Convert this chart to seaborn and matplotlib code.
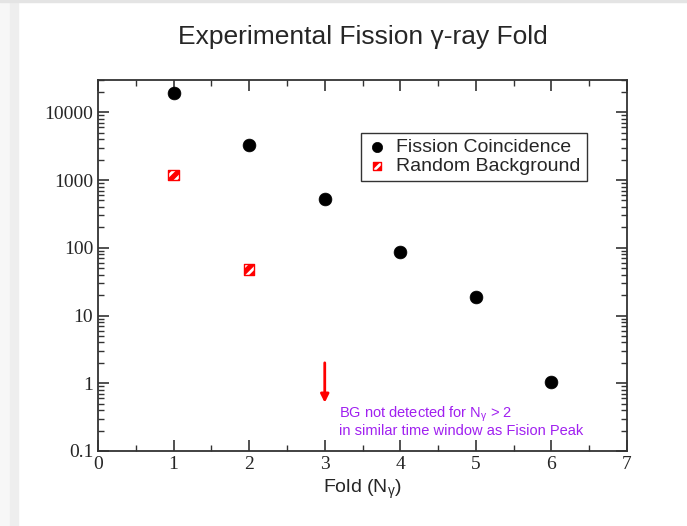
import numpy as np
import pandas as pd
import matplotlib
matplotlib.use("Agg")
import matplotlib.pyplot as plt
import matplotlib.ticker as mticker
from matplotlib.patches import Rectangle
from matplotlib.legend_handler import HandlerTuple
import seaborn as sns

# values
fold = [1, 2, 3, 4, 5, 6]
fission_counts = [19000, 3250, 520, 86, 18.5, 1.03]
bg_fold = [1, 2]
bg_counts = [1180, 48]

sns.set_style("ticks")
plt.rcParams["font.family"] = ["Liberation Sans", "DejaVu Sans"]
plt.rcParams["hatch.color"] = "white"
plt.rcParams["hatch.linewidth"] = 2.0

fis = pd.DataFrame({"fold": fold, "counts": fission_counts})
bg = pd.DataFrame({"fold": bg_fold, "counts": bg_counts})

fig = plt.figure(figsize=(6.87, 5.26), dpi=100)
ax = fig.add_axes([0.1427, 0.1426, 0.77, 0.7054])

# screenshot side strip
fig.patches.append(Rectangle((0, 0), 10 / 687, 1, transform=fig.transFigure,
                             color="#f7f7f7", zorder=-5))
fig.patches.append(Rectangle((10 / 687, 0), 8 / 687, 1, transform=fig.transFigure,
                             color="#eeeeee", zorder=-5))
fig.patches.append(Rectangle((0, 1 - 2 / 526), 1, 2 / 526, transform=fig.transFigure,
                             color="#e4e4e4", zorder=-5))

sns.scatterplot(data=fis, x="fold", y="counts", ax=ax, color="black", marker="o",
                s=85, edgecolor="black", linewidth=0.5, zorder=3, legend=False)
# hatched squares: red fill with white stripes, then a red outline on top
sns.scatterplot(data=bg, x="fold", y="counts", ax=ax, color="red", marker="s",
                s=55, edgecolor="white", linewidth=0, hatch="///", zorder=3, legend=False)
sns.scatterplot(data=bg, x="fold", y="counts", ax=ax, marker="s", s=55,
                facecolor="none", edgecolor="red", linewidth=1.0, zorder=4, legend=False)
c_fis, c_bg, c_bg_edge = ax.collections[0], ax.collections[1], ax.collections[2]
c_bg.set_hatch("///")
c_bg._hatch_color = (1, 1, 1, 1)

ax.set_yscale("log")
ax.set_xlim(0, 7)
ax.set_ylim(0.1, 30000)

ax.xaxis.set_major_locator(mticker.MultipleLocator(1))
ax.xaxis.set_minor_locator(mticker.MultipleLocator(0.5))
ax.yaxis.set_major_locator(mticker.LogLocator(base=10, numticks=10))
ax.yaxis.set_minor_locator(mticker.LogLocator(base=10, subs=np.arange(2, 10), numticks=20))
ax.yaxis.set_minor_formatter(mticker.NullFormatter())
ax.yaxis.set_major_formatter(mticker.FuncFormatter(lambda v, p: f"{v:g}"))

ax.tick_params(which="both", direction="in", top=True, right=True, color="#333333")
ax.tick_params(which="major", length=8, width=1.2)
ax.tick_params(which="minor", length=4, width=1.0)
for lab in ax.get_xticklabels() + ax.get_yticklabels():
    lab.set_family("Liberation Serif")
    lab.set_fontsize(14)
for sp in ax.spines.values():
    sp.set_visible(True)
    sp.set_color("#333333")
    sp.set_linewidth(1.3)

ax.set_xlabel(r"Fold (N$_{\mathregular{γ}}$)", fontsize=14, labelpad=3)
ax.set_ylabel("")
fig.text(0.528, 0.93, "Experimental Fission γ-ray Fold", ha="center", va="center",
         fontsize=19)

ax.annotate("", xy=(3, 0.47), xytext=(3, 2.2),
            arrowprops=dict(arrowstyle="-|>", color="red", lw=2, mutation_scale=12))
ax.text(3.19, 0.35, r"BG not detected for N$_{\mathregular{γ}}$ > 2", color="#a020f0",
        fontsize=10.5, va="center")
ax.text(3.19, 0.195, "in similar time window as Fision Peak", color="#a020f0",
        fontsize=10.5, va="center")

leg = ax.legend(handles=[c_fis, (c_bg, c_bg_edge)],
                labels=["Fission Coincidence", "Random Background"],
                handler_map={tuple: HandlerTuple(ndivide=1)},
                loc="upper left", bbox_to_anchor=(0.498, 0.857), fontsize=14,
                frameon=True, fancybox=False, handletextpad=0.5, borderpad=0.3,
                labelspacing=0.05, handlelength=1.0, borderaxespad=0, markerscale=0.8)
leg.get_frame().set_edgecolor("black")
leg.get_frame().set_linewidth(1.0)

fig.savefig("out.png", dpi=100)
